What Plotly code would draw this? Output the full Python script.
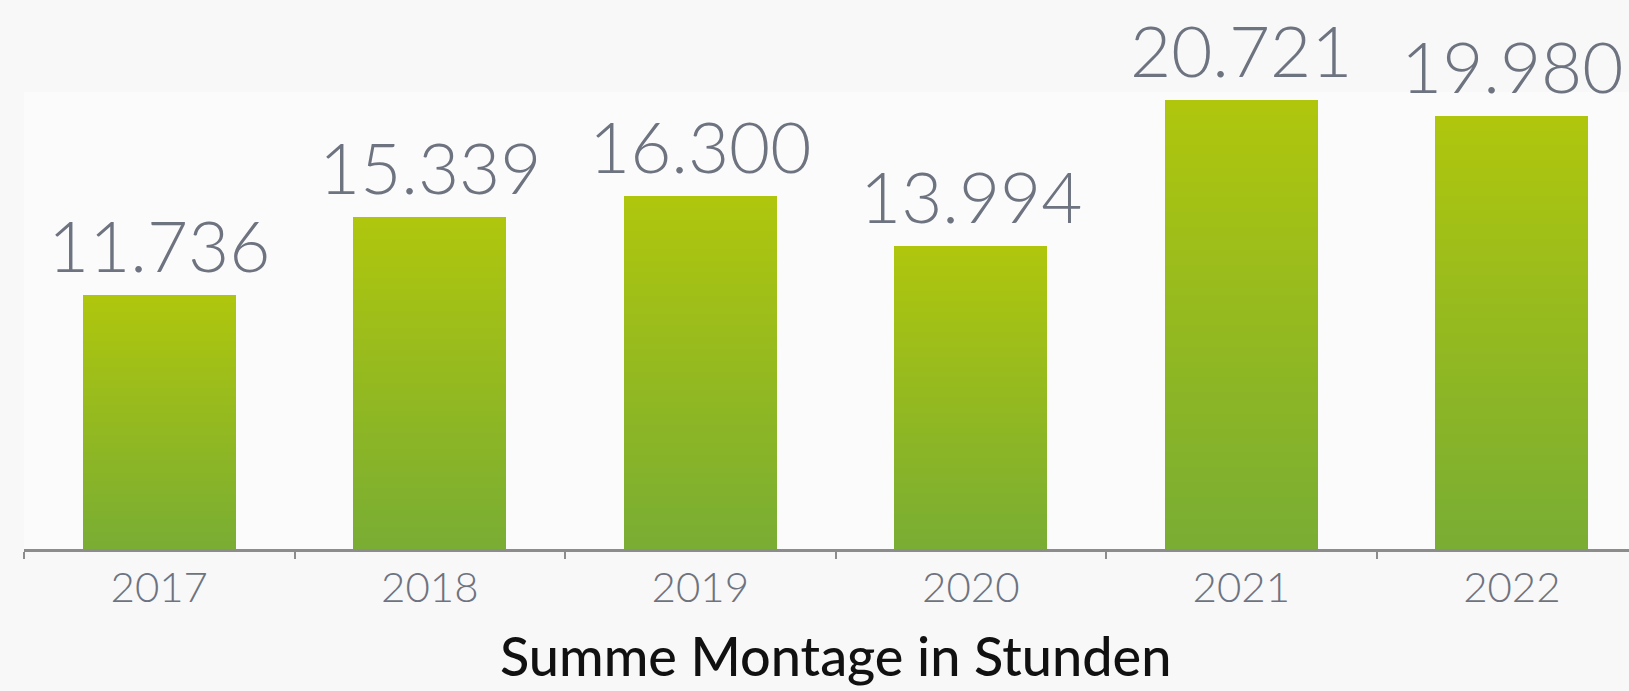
import plotly.graph_objects as go

years = ["2017", "2018", "2019", "2020", "2021", "2022"]
values = [11736, 15339, 16300, 13994, 20721, 19980]
labels = ["11.736", "15.339", "16.300", "13.994", "20.721", "19.980"]
title_text = "Summe Montage in Stunden"

TOP = (175, 198, 13)
BOTTOM = (121, 173, 51)
N_SEG = 60

fig = go.Figure()
for k in range(N_SEG):
    t = k / (N_SEG - 1)
    c = tuple(round(BOTTOM[j] + (TOP[j] - BOTTOM[j]) * t) for j in range(3))
    fig.add_trace(go.Bar(
        x=years,
        y=[v / N_SEG for v in values],
        marker=dict(color="rgb(%d,%d,%d)" % c, line=dict(width=0)),
        hoverinfo="skip",
        showlegend=False,
    ))

for i, (v, lab) in enumerate(zip(values, labels)):
    fig.add_annotation(
        x=i, y=v, xref="x", yref="y", text=lab, showarrow=False,
        yanchor="bottom", yshift=6,
        font=dict(family="Lato", size=71, color="#6e7380", weight=300),
    )

fig.add_annotation(
    x=2.5, xref="x", y=-0.232, yref="paper", text=title_text, showarrow=False,
    yanchor="middle",
    font=dict(family="Lato", size=54, color="#111111", weight=500),
)

fig.update_layout(
    width=1629, height=691,
    margin=dict(l=24, r=0, t=92, b=142, autoexpand=False),
    paper_bgcolor="#f8f8f8",
    plot_bgcolor="#fbfbfb",
    barmode="stack",
    bargap=0.435,
    showlegend=False,
)
fig.update_xaxes(
    type="category",
    range=[-0.5, 5.433],
    showline=True, linecolor="#8c8c8c", linewidth=2.5,
    ticks="outside", tickson="boundaries", ticklen=7, tickwidth=2, tickcolor="#8c8c8c",
    tickfont=dict(family="Lato", size=42, color="#6e7380", weight=300),
    showgrid=False, zeroline=False,
)
fig.update_yaxes(range=[0, 21100], visible=False, showgrid=False, zeroline=False)

fig.write_html("out.html")
